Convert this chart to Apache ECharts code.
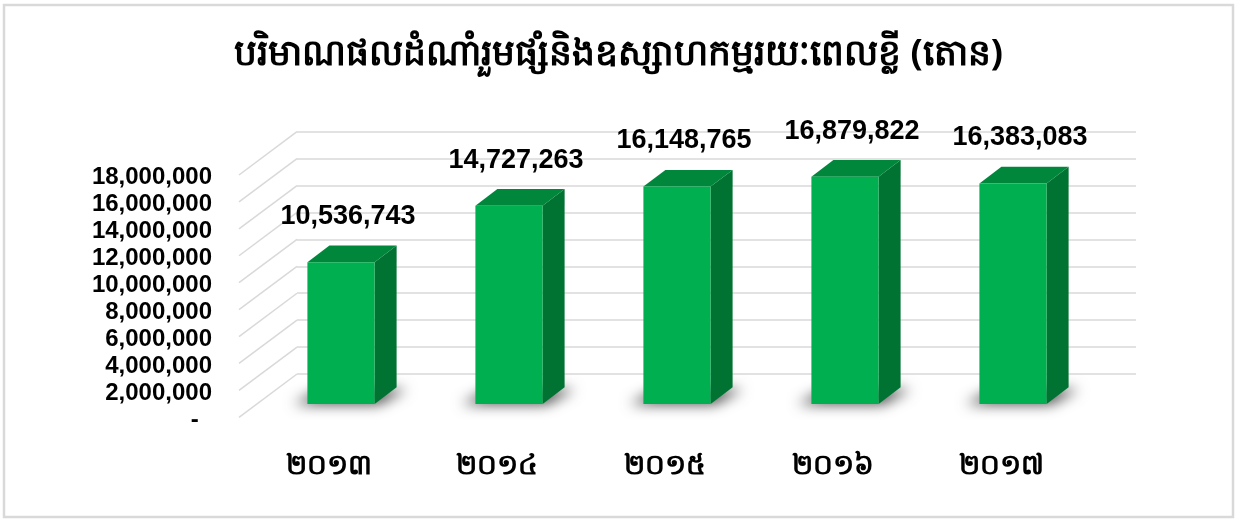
<!DOCTYPE html>
<html>
<head>
<meta charset="utf-8">
<script src="https://cdn.jsdelivr.net/npm/echarts@6/dist/echarts.min.js"></script>
<style>
  html, body { margin: 0; padding: 0; background: #fff; }
  #chart { width: 1237px; height: 519px; }
</style>
</head>
<body>
<div id="chart"></div>
<script>
// ទិន្នន័យ
var titleText = 'បរិមាណផលដំណាំរួមផ្សំនិងឧស្សាហកម្មរយៈពេលខ្លី (តោន)';
var years = ['២០១៣', '២០១៤', '២០១៥', '២០១៦', '២០១៧'];
var tonnes = [10536743, 14727263, 16148765, 16879822, 16383083];
var yTicks = [0, 2000000, 4000000, 6000000, 8000000, 10000000, 12000000, 14000000, 16000000, 18000000];

var myChart = echarts.init(document.getElementById('chart'));

function fmt(v) {
    if (v === 0) return '-  ';
    return v.toLocaleString('en-US');
}

// back wall grid -> slanted floor lines
function renderWall(params, api) {
    var cs = params.coordSys;
    var y = api.coord([0, api.value(1)])[1];
    return {
        type: 'line',
        shape: {x1: cs.x, y1: y, x2: cs.x - 58, y2: y + 43.3},
        style: {stroke: '#d9d9d9', lineWidth: 1.5}
    };
}

var OFF = 3000; // shadow drawn off-canvas, only its blur is shifted back in

function renderBar(params, api) {
    var i = api.value(0), v = api.value(1);
    var top = api.coord([i, v]);
    var base = api.coord([i, 0]);
    var w = api.size([1, 0])[0] * 0.4;
    var xl = top[0] - w / 2, xr = top[0] + w / 2;
    var yt = top[1], yb = base[1];
    var dx = 22, dy = -16.7;
    return {
        type: 'group',
        children: [
            {
                type: 'polygon',
                shape: {points: [[xl - 14 - OFF, yb], [xr + 4 - OFF, yb], [xr + dx + 10 - OFF, yb + dy + 2], [xl + dx - 6 - OFF, yb + dy + 2]]},
                style: {fill: '#000', shadowBlur: 14, shadowOffsetX: OFF, shadowOffsetY: 0, shadowColor: 'rgba(0,0,0,0.75)'}
            },
            {
                type: 'polygon',
                shape: {points: [[xr, yt], [xr + dx, yt + dy], [xr + dx, yb + dy], [xr, yb]]},
                style: {fill: '#007232'}
            },
            {
                type: 'polygon',
                shape: {points: [[xl, yt], [xr, yt], [xr + dx, yt + dy], [xl + dx, yt + dy]]},
                style: {fill: '#00873b'}
            },
            {
                type: 'rect',
                shape: {x: xl, y: yt, width: w, height: yb - yt},
                style: {fill: '#00b050'}
            },
            {
                type: 'text',
                style: {
                    text: fmt(v), x: top[0] + 7, y: yt + dy - 29,
                    align: 'center', verticalAlign: 'middle',
                    font: 'bold 27px "Liberation Sans", Arial, sans-serif', fill: '#000'
                }
            }
        ]
    };
}

var option = {
    backgroundColor: '#fff',
    animation: false,
    title: {
        text: titleText,
        left: 'center',
        top: 32,
        textStyle: {fontSize: 36, fontWeight: 'bold', color: '#000', fontFamily: 'Noto Sans, DejaVu Sans, sans-serif'}
    },
    graphic: [{
        type: 'rect',
        shape: {x: 4, y: 5, width: 1229, height: 512},
        style: {fill: 'none', stroke: '#d9d9d9', lineWidth: 2.5}
    }],
    grid: [
        {left: 297, top: 131.7, width: 839, height: 242.3},   // back wall
        {left: 245, top: 177, width: 840, height: 243},       // front edge (labels)
        {left: 257, top: 161.7, width: 840, height: 242.3}    // bar front plane
    ],
    xAxis: [
        {gridIndex: 0, type: 'category', data: years, show: false},
        {
            gridIndex: 1, type: 'category', data: years,
            axisLine: {show: false}, axisTick: {show: false},
            axisLabel: {margin: 32, color: '#000', fontSize: 28, fontWeight: 'bold', fontFamily: 'Noto Sans, DejaVu Sans, sans-serif'}
        },
        {gridIndex: 2, type: 'category', data: years, show: false}
    ],
    yAxis: [
        {
            gridIndex: 0, type: 'value', min: 0, max: 18000000, interval: 2000000,
            axisLabel: {show: false}, axisLine: {show: false}, axisTick: {show: false},
            splitLine: {lineStyle: {color: '#d9d9d9', width: 1.5}}
        },
        {
            gridIndex: 1, type: 'value', min: 0, max: 18000000, interval: 2000000,
            axisLine: {show: false}, axisTick: {show: false}, splitLine: {show: false},
            axisLabel: {
                margin: 33, color: '#000', fontSize: 24, fontWeight: 'bold',
                fontFamily: '"Liberation Sans", Arial, sans-serif', formatter: fmt
            }
        },
        {gridIndex: 2, type: 'value', min: 0, max: 18000000, interval: 2000000, show: false}
    ],
    series: [
        {
            type: 'custom', xAxisIndex: 0, yAxisIndex: 0,
            renderItem: renderWall, silent: true, z: 1,
            data: yTicks.map(function (t) { return [0, t]; })
        },
        {
            type: 'custom', xAxisIndex: 2, yAxisIndex: 2,
            renderItem: renderBar, z: 5,
            encode: {x: 0, y: 1},
            data: tonnes.map(function (t, i) { return [i, t]; })
        }
    ]
};
myChart.setOption(option);
</script>
</body>
</html>
